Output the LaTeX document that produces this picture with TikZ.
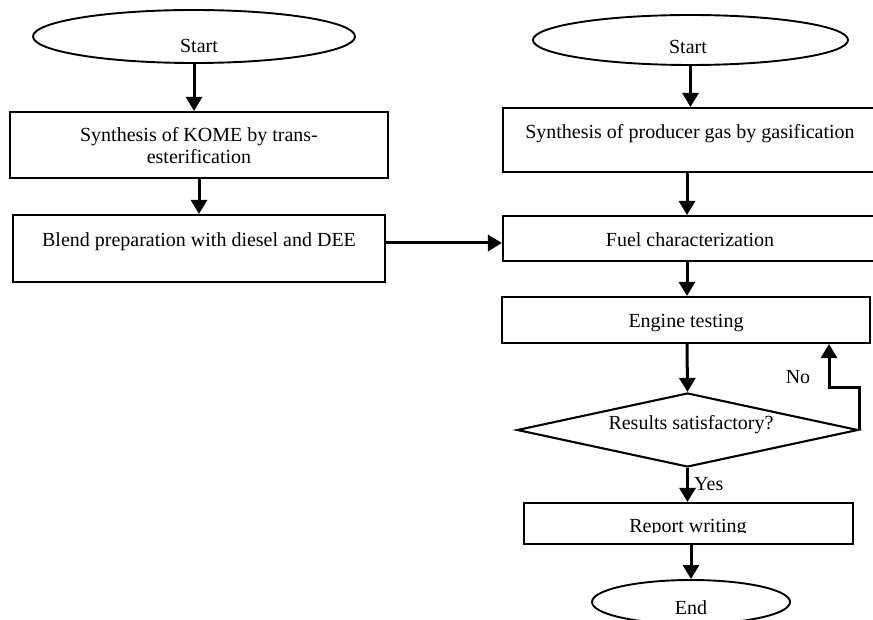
\documentclass[tikz,border=0pt]{standalone}
\usepackage{fontspec}
\setmainfont{Liberation Serif}
\usetikzlibrary{arrows.meta,shapes.geometric}
\begin{document}
\begin{tikzpicture}[x=1pt,y=-1pt,
  every node/.style={font=\fontsize{20}{22}\selectfont},
  boxnode/.style={draw,line width=2.1pt,inner sep=0pt,rectangle},
  ovalnode/.style={draw,line width=1.9pt,inner sep=0pt,ellipse},
  dianode/.style={draw,line width=2.1pt,inner sep=0pt,diamond},
  txt/.style={inner sep=0pt,align=center,text height=14pt,text depth=4pt},
  arr/.style={line width=3pt,-{Triangle[length=14pt,width=16pt]}}]
\useasboundingbox (0,0) rectangle (873,620);
\clip (0,0) rectangle (873,620);
% left column
\node[ovalnode,minimum width=322pt,minimum height=53pt] (ls) at (194,36.5) {};
\node[txt] (lst) at (199,48) {Start};
\node[boxnode,minimum width=378pt,minimum height=66pt] (b1) at (199,145) {};
\node[txt] (b1t) at (199,159) {Synthesis of KOME by trans-\\esterification};
\node[boxnode,minimum width=372pt,minimum height=67pt] (b2) at (199,248.5) {};
\node[txt] (b2t) at (199,242) {Blend preparation with diesel and DEE};
% right column
\coordinate (xr) at (687,0);
\node[ovalnode,minimum width=315pt,minimum height=50pt] (rs) at (690.5,40) {};
\node[txt] (rst) at (688,49) {Start};
\node[boxnode,minimum width=377pt,minimum height=64pt] (r1) at (691.5,140) {};
\node[txt] (r1t) at (690,134) {Synthesis of producer gas by gasification};
\node[boxnode,minimum width=377pt,minimum height=45pt] (r2) at (691.5,238.5) {};
\node[txt] (r2t) at (690,242) {Fuel characterization};
\node[boxnode,minimum width=368pt,minimum height=46pt] (r3) at (686,320) {};
\node[txt] (r3t) at (686,322) {Engine testing};
\node[dianode,minimum width=341pt,minimum height=74pt] (dia) at (687.5,430) {};
\node[txt] (diat) at (691,424) {Results satisfactory?};
\node[boxnode,minimum width=329pt,minimum height=41pt] (rep) at (688.5,523.5) {};
\begin{scope}
\clip (520,500) rectangle (860,532);
\node[txt] (rept) at (688,527) {Report writing};
\end{scope}
\node[ovalnode,minimum width=198pt,minimum height=44pt] (en) at (691,602) {};
\node[txt] (ent) at (691,609) {End};
% labels
\node[txt,anchor=west] (yes) at (694,485) {Yes};
\node[txt] (no) at (798,379) {No};
% connectors
\draw[arr] (ls.south) -- (ls.south |- b1.north);
\draw[arr] (b1.south) -- (b1.south |- b2.north);
\coordinate (yl) at (0,243);
\draw[arr] (b2.east |- yl) -- (r2.west |- yl);
\draw[arr] (rs.south) -- (rs.south |- r1.north);
\draw[arr] (r1.south -| xr) -- (r2.north -| xr);
\draw[arr] (r2.south -| xr) -- (r3.north -| xr);
\draw[arr] (r3.south -| xr) -- (dia.north);
\draw[arr] (dia.south) -- (dia.south |- rep.north);
\draw[arr] (rep.south -| en.north) -- (en.north);
\coordinate (nb) at (829,387);
\draw[arr] (dia.east) |- (nb) -- (nb |- r3.south);
\end{tikzpicture}
\end{document}
